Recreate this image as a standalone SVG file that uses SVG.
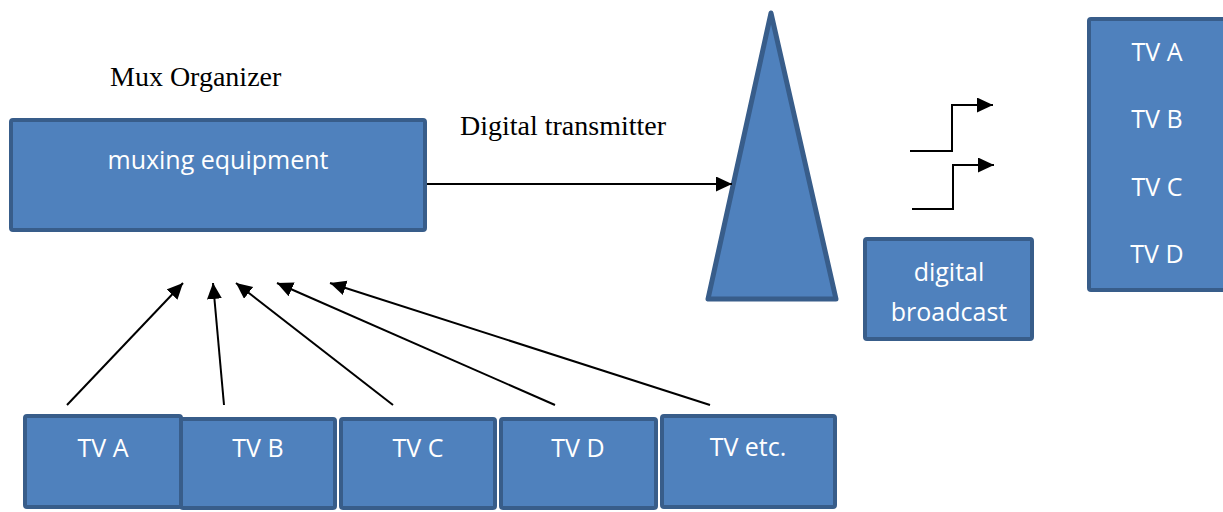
<svg xmlns="http://www.w3.org/2000/svg" width="1223" height="512" viewBox="0 0 1223 512">
  <style>
    .box { fill: #4F81BD; stroke: #385D8A; stroke-width: 4; }
    .lbl { font-family: "Open Sans", "Liberation Sans", sans-serif; font-size: 25px; fill: #FFFFFF; text-anchor: middle; }
    .cap { font-family: "Liberation Serif", serif; font-size: 28px; fill: #000000; }
    .conn { fill: none; stroke: #000000; stroke-width: 2; }
  </style>
  <defs>
    <marker id="arrow" markerUnits="userSpaceOnUse" markerWidth="17" markerHeight="16" refX="16" refY="7.5" orient="auto">
      <path d="M0,0 L16,7.5 L0,15 z" fill="#000000"/>
    </marker>
  </defs>
  <rect width="1223" height="512" fill="#FFFFFF"/>

  <text class="cap" x="110" y="86">Mux Organizer</text>
  <text class="cap" x="460" y="135">Digital transmitter</text>

  <g id="mux">
    <rect class="box" x="11" y="120" width="414" height="110" rx="2"/>
    <text class="lbl" x="218" y="169">muxing equipment</text>
  </g>

  <g id="transmitter">
    <polygon points="771,13 708,299 836,299" fill="#4F81BD" stroke="#385D8A" stroke-width="5" stroke-linejoin="round"/>
  </g>

  <g id="broadcast">
    <rect class="box" x="865" y="239" width="167" height="100" rx="2"/>
    <text class="lbl" x="949" y="281">digital</text>
    <text class="lbl" x="949" y="321">broadcast</text>
  </g>

  <g id="channels">
    <rect class="box" x="1089" y="19" width="200" height="271" rx="2"/>
    <text class="lbl" x="1157" y="61">TV A</text>
    <text class="lbl" x="1157" y="128">TV B</text>
    <text class="lbl" x="1157" y="196">TV C</text>
    <text class="lbl" x="1157" y="263">TV D</text>
  </g>

  <g id="tvA">
    <rect class="box" x="25" y="416" width="156" height="91" rx="2"/>
    <text class="lbl" x="103" y="457">TV A</text>
  </g>
  <g id="tvB">
    <rect class="box" x="181" y="419" width="154" height="89" rx="2"/>
    <text class="lbl" x="258" y="457">TV B</text>
  </g>
  <g id="tvC">
    <rect class="box" x="341" y="419" width="154" height="89" rx="2"/>
    <text class="lbl" x="418" y="457">TV C</text>
  </g>
  <g id="tvD">
    <rect class="box" x="501" y="419" width="155" height="89" rx="2"/>
    <text class="lbl" x="578" y="457">TV D</text>
  </g>
  <g id="tvEtc">
    <rect class="box" x="662" y="416" width="173" height="91" rx="2"/>
    <text class="lbl" x="748" y="456">TV etc.</text>
  </g>

  <g id="connectors">
    <line class="conn" x1="427" y1="184" x2="732" y2="184" marker-end="url(#arrow)"/>
    <line class="conn" x1="67" y1="405" x2="183" y2="283" marker-end="url(#arrow)"/>
    <line class="conn" x1="224" y1="405" x2="213" y2="283" marker-end="url(#arrow)"/>
    <line class="conn" x1="393" y1="405" x2="236" y2="283" marker-end="url(#arrow)"/>
    <line class="conn" x1="555" y1="405" x2="277" y2="283" marker-end="url(#arrow)"/>
    <line class="conn" x1="710" y1="405" x2="330" y2="283" marker-end="url(#arrow)"/>
    <polyline class="conn" points="910,151 952,151 952,105 993,105" marker-end="url(#arrow)"/>
    <polyline class="conn" points="912,209 953,209 953,165 994,165" marker-end="url(#arrow)"/>
  </g>
</svg>
